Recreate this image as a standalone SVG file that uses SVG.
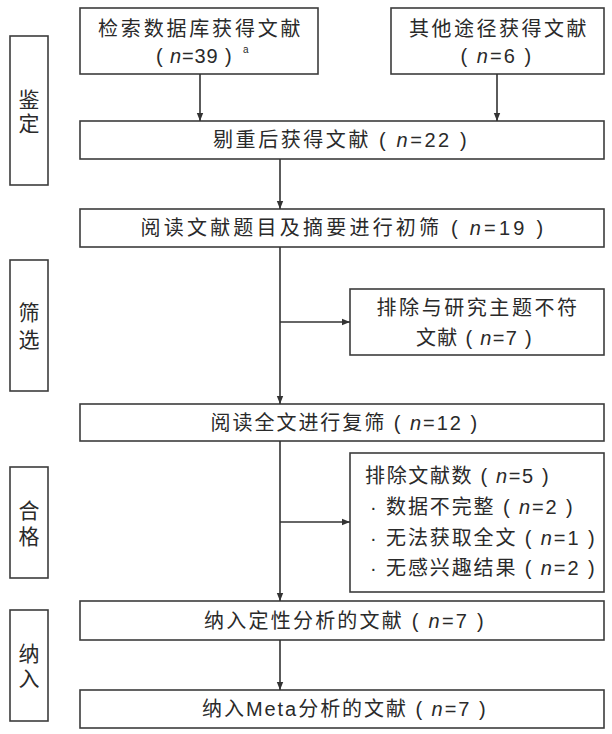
<svg xmlns="http://www.w3.org/2000/svg" width="612" height="734" viewBox="0 0 612 734">
<defs>
<marker id="ah" viewBox="0 0 8 8" refX="8" refY="4" markerWidth="8" markerHeight="8" markerUnits="userSpaceOnUse" orient="auto">
<path d="M0,0.8 L8,4 L0,7.2 z" fill="#333"/>
</marker>
<style>
rect{fill:#fff;stroke:#3c3c3c;stroke-width:1.6}
text{font-family:"Liberation Sans","Noto Sans CJK SC",sans-serif;font-size:20px;fill:#2a2a2a;letter-spacing:2.4px;dominant-baseline:central}
.c{text-anchor:middle}
.lab{font-size:21px;letter-spacing:0}
.i{font-style:italic}
.sup{font-size:10px;letter-spacing:0}
.conn line{stroke:#333;stroke-width:1.6;marker-end:url(#ah)}
</style>
</defs>
<rect x="0" y="0" width="612" height="734" style="fill:#fff;stroke:none"/>
<g id="stage1"><rect x="10" y="36" width="38" height="149"/><text class="c lab" x="29" y="99">鉴</text><text class="c lab" x="29" y="123">定</text></g>
<g id="stage2"><rect x="10" y="260" width="38" height="131"/><text class="c lab" x="29" y="312">筛</text><text class="c lab" x="29" y="339">选</text></g>
<g id="stage3"><rect x="10" y="467" width="38" height="111"/><text class="c lab" x="29" y="510">合</text><text class="c lab" x="29" y="536">格</text></g>
<g id="stage4"><rect x="10" y="610" width="38" height="111"/><text class="c lab" x="29" y="653">纳</text><text class="c lab" x="29" y="678">入</text></g>
<g id="db"><rect x="80" y="8" width="238" height="66"/><text class="c" x="200.5" y="28.5" textLength="205" lengthAdjust="spacing">检索数据库获得文献</text><text class="c" x="195" y="56" textLength="78" lengthAdjust="spacing">( <tspan class="i">n</tspan>=39 )</text><text class="sup" x="243" y="49">a</text></g>
<g id="other"><rect x="391" y="8" width="213" height="66"/><text class="c" x="499" y="28.5" textLength="180" lengthAdjust="spacing">其他途径获得文献</text><text class="c" x="497" y="56" textLength="73" lengthAdjust="spacing">( <tspan class="i">n</tspan>=6 )</text></g>
<g id="dedup"><rect x="80" y="121" width="524" height="38"/><text class="c" x="341" y="140" textLength="256" lengthAdjust="spacing">剔重后获得文献 ( <tspan class="i">n</tspan>=22 )</text></g>
<g id="title"><rect x="80" y="209" width="524" height="38"/><text class="c" x="343" y="228" textLength="405" lengthAdjust="spacing">阅读文献题目及摘要进行初筛 ( <tspan class="i">n</tspan>=19 )</text></g>
<g id="excl1"><rect x="350" y="289" width="254" height="66"/><text class="c" x="478" y="308" textLength="203" lengthAdjust="spacing">排除与研究主题不符</text><text class="c" x="475" y="338" textLength="118" lengthAdjust="spacing">文献 ( <tspan class="i">n</tspan>=7 )</text></g>
<g id="full"><rect x="80" y="404" width="524" height="37"/><text class="c" x="345" y="422.5" textLength="269" lengthAdjust="spacing">阅读全文进行复筛 ( <tspan class="i">n</tspan>=12 )</text></g>
<g id="excl2"><rect x="350" y="453" width="254" height="139"/>
<text x="365" y="476" textLength="186" lengthAdjust="spacing">排除文献数 ( <tspan class="i">n</tspan>=5 )</text>
<text x="370" y="507">·</text><text x="386" y="507" textLength="189" lengthAdjust="spacing">数据不完整 ( <tspan class="i">n</tspan>=2 )</text>
<text x="370" y="538">·</text><text x="386" y="538" textLength="211" lengthAdjust="spacing">无法获取全文 ( <tspan class="i">n</tspan>=1 )</text>
<text x="370" y="568">·</text><text x="386" y="568" textLength="211" lengthAdjust="spacing">无感兴趣结果 ( <tspan class="i">n</tspan>=2 )</text></g>
<g id="qual"><rect x="80" y="601" width="524" height="39"/><text class="c" x="345" y="620.5" textLength="282" lengthAdjust="spacing">纳入定性分析的文献 ( <tspan class="i">n</tspan>=7 )</text></g>
<g id="meta"><rect x="80" y="690" width="524" height="38"/><text class="c" x="345" y="709" textLength="286" lengthAdjust="spacing">纳入Meta分析的文献 ( <tspan class="i">n</tspan>=7 )</text></g>
<g class="conn" id="connectors">
<line x1="200" y1="74" x2="200" y2="121"/>
<line x1="497" y1="74" x2="497" y2="121"/>
<line x1="280" y1="159" x2="280" y2="209"/>
<line x1="280" y1="247" x2="280" y2="404"/>
<line x1="280" y1="322" x2="350" y2="322"/>
<line x1="280" y1="441" x2="280" y2="601"/>
<line x1="280" y1="522" x2="350" y2="522"/>
<line x1="280" y1="640" x2="280" y2="690"/>
</g>
</svg>
